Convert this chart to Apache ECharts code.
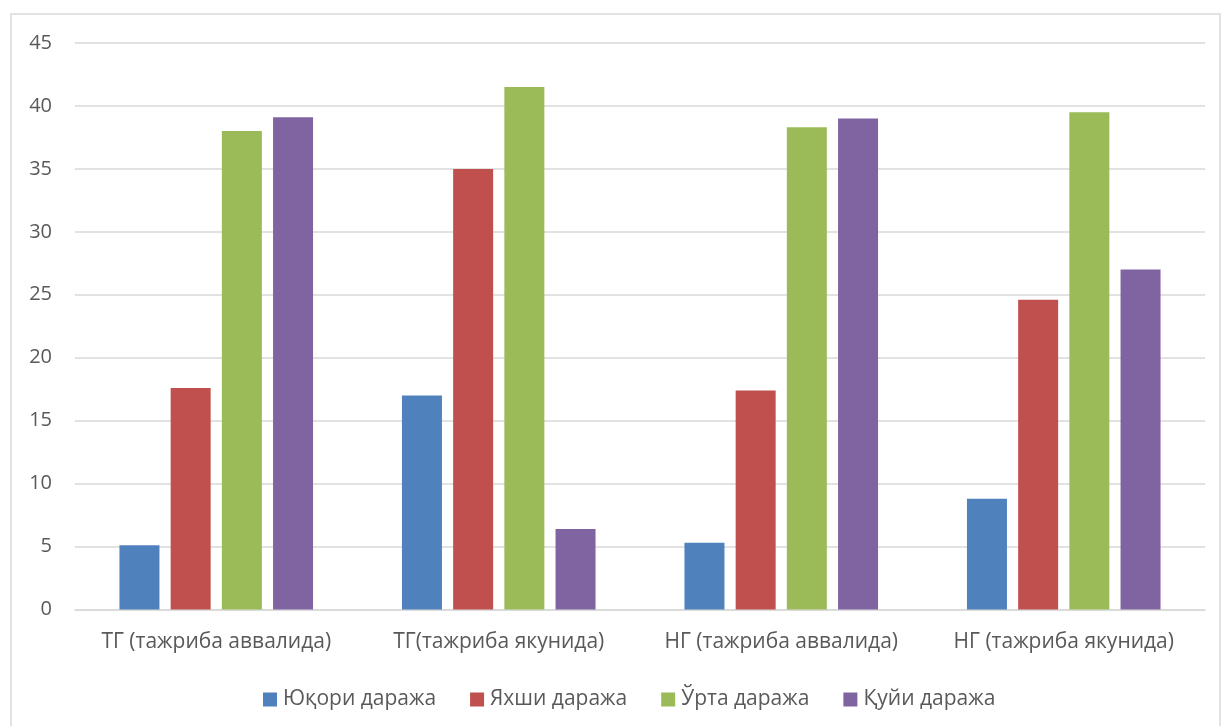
<!DOCTYPE html>
<html>
<head>
<meta charset="utf-8">
<script src="https://cdn.jsdelivr.net/npm/echarts@6/dist/echarts.min.js"></script>
<style>
html,body{margin:0;padding:0;background:#fff;}
#chart{width:1222px;height:726px;}
</style>
</head>
<body>
<div id="chart"></div>
<script>
const categories = ['ТГ (тажриба аввалида)', 'ТГ(тажриба якунида)', 'НГ (тажриба аввалида)', 'НГ (тажриба якунида)'];
const seriesNames = ['Юқори даража', 'Яхши даража', 'Ўрта даража', 'Қуйи даража'];
const yuqori = [5.1, 17, 5.3, 8.8];
const yakhshi = [17.6, 35, 17.4, 24.6];
const urta = [38, 41.5, 38.3, 39.5];
const quyi = [39.1, 6.4, 39.0, 27];
const yTicks = [0, 5, 10, 15, 20, 25, 30, 35, 40, 45];

const colors = ['#4F81BD', '#C0504D', '#9BBB59', '#8064A2'];
const values = [yuqori, yakhshi, urta, quyi];
const font = '"Open Sans", Roboto, "Noto Sans", sans-serif';

const chart = echarts.init(document.getElementById('chart'), null, {renderer: 'canvas'});
chart.setOption({
  animation: false,
  backgroundColor: '#fff',
  color: colors,
  graphic: [{
    type: 'rect',
    shape: {x: 11, y: 14, width: 1209, height: 720},
    style: {fill: 'none', stroke: '#d9d9d9', lineWidth: 1.5},
    silent: true
  }],
  grid: {left: 75, right: 17, top: 43, bottom: 116.5, containLabel: false},
  legend: {
    top: 684,
    left: 258,
    itemWidth: 14,
    itemHeight: 14,
    itemGap: 34,
    icon: 'rect',
    textStyle: {color: '#595959', fontSize: 21, fontFamily: font, padding: [0, 0, 0, 1]},
    data: seriesNames
  },
  xAxis: {
    type: 'category',
    data: categories,
    axisLine: {show: true, lineStyle: {color: '#d9d9d9', width: 1.5}},
    axisTick: {show: false},
    axisLabel: {color: '#595959', fontSize: 21, fontFamily: font, margin: 22, interval: 0, hideOverlap: false}
  },
  yAxis: {
    type: 'value',
    min: yTicks[0],
    max: yTicks[yTicks.length - 1],
    interval: 5,
    axisLine: {show: false},
    axisTick: {show: false},
    splitLine: {lineStyle: {color: '#d9d9d9', width: 1.5}},
    axisLabel: {color: '#595959', fontSize: 20, fontFamily: font, margin: 23}
  },
  series: seriesNames.map((name, i) => ({
    name: name,
    type: 'bar',
    data: values[i],
    barWidth: 40,
    barGap: '28%',
    itemStyle: {color: colors[i]}
  }))
});
</script>
</body>
</html>
